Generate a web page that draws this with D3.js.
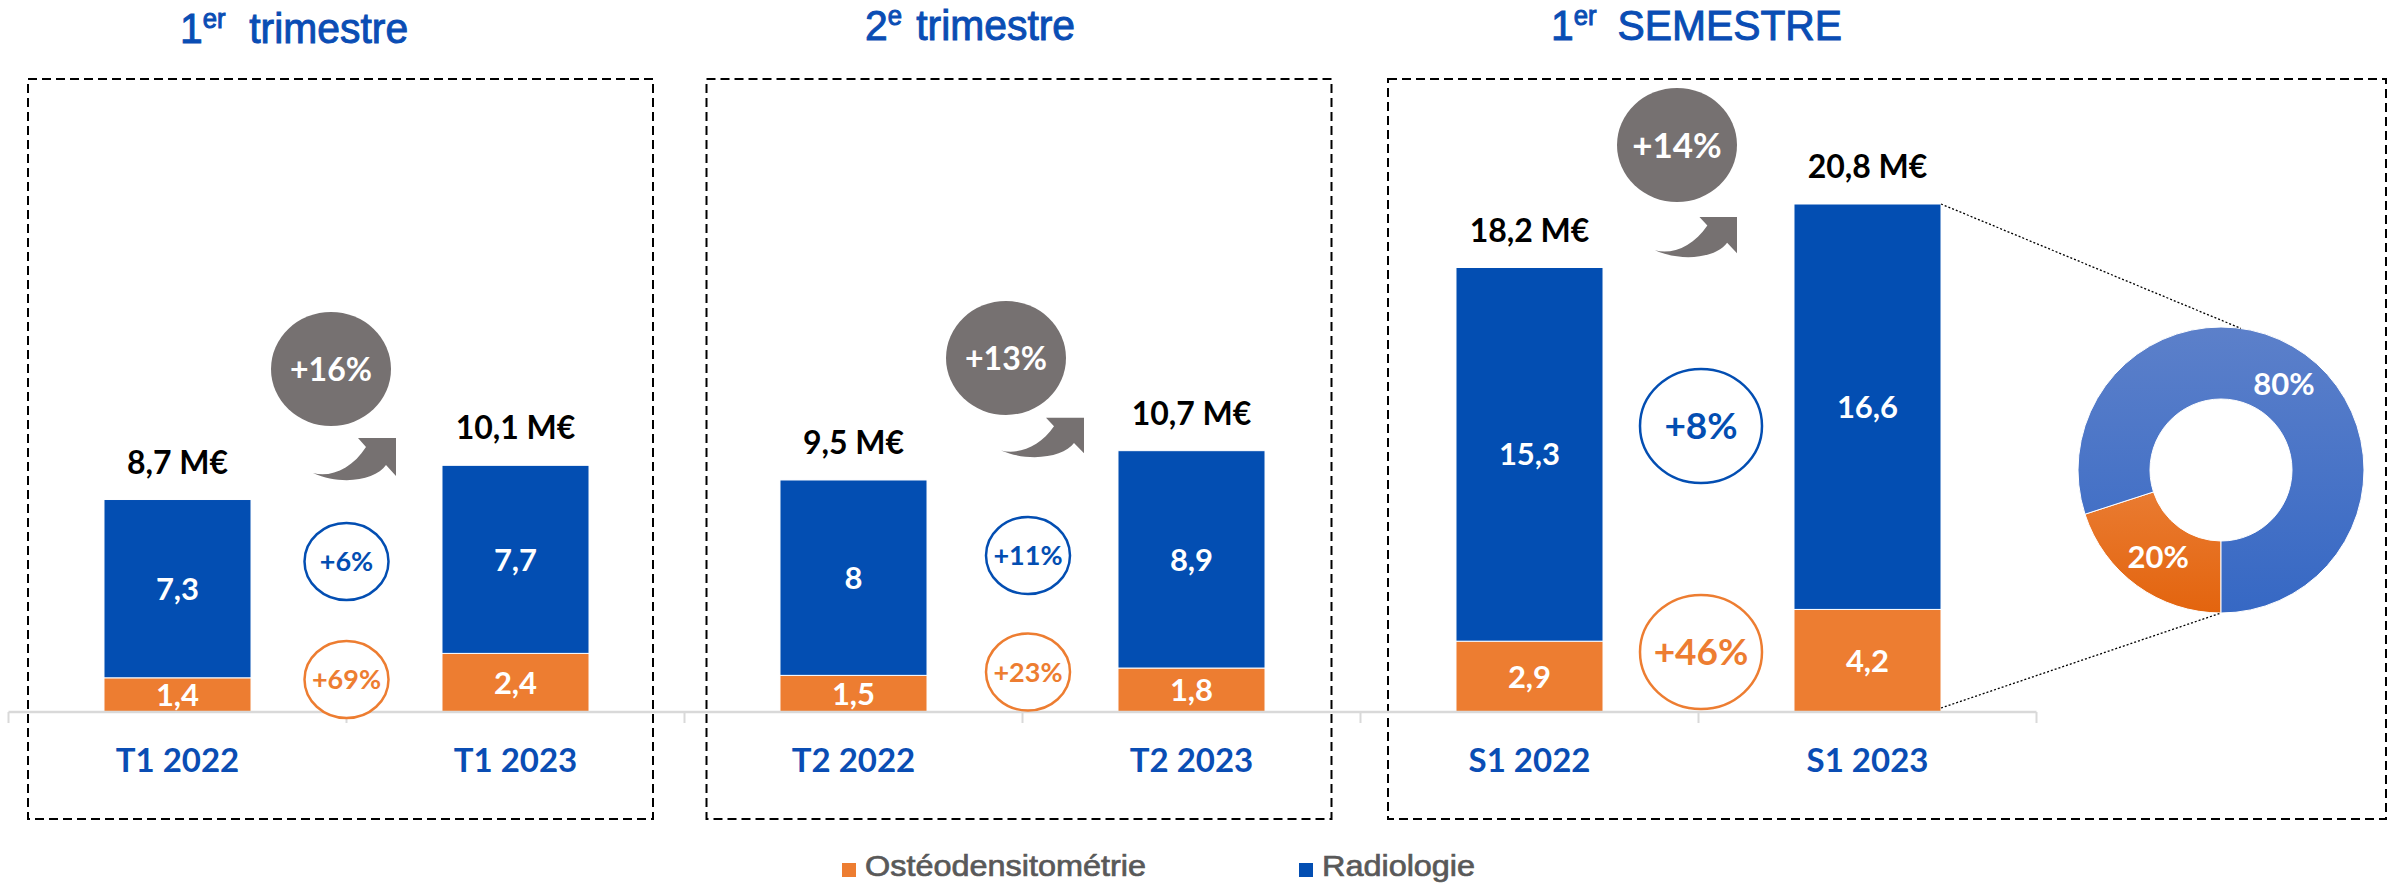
<!DOCTYPE html>
<html>
<head>
<meta charset="utf-8">
<script src="https://cdn.jsdelivr.net/npm/d3@7"></script>
<style>
  body { margin: 0; background: #fff; }
  svg { display: block; }
</style>
</head>
<body>
<div id="chart"></div>
<script>
// Data
var categories = ["T1 2022", "T1 2023", "T2 2022", "T2 2023", "S1 2022", "S1 2023"];
var osteo = [1.4, 2.4, 1.5, 1.8, 2.9, 4.2];
var radio = [7.3, 7.7, 8, 8.9, 15.3, 16.6];

var titleNum = ["1", "2", "1"];
var titleSup = ["er", "e", "er"];
var titleWord = ["trimestre", "trimestre", "SEMESTRE"];

var totalGrowth = ["+16%", "+13%", "+14%"];
var radioGrowth = ["+6%", "+11%", "+8%"];
var osteoGrowth = ["+69%", "+23%", "+46%"];

var seriesNames = ["Ostéodensitométrie", "Radiologie"];
var shares = [20, 80];

// Layout / styles
var svgWidth = 2403, svgHeight = 885;
var blue = "#034EB2", orange = "#ED7D31", grey = "#767171", titleBlue = "#0A4DB4";
var labelFont = "Lato, 'Open Sans', sans-serif";
var arialFont = "'Liberation Sans', Arial, sans-serif";

// per panel placement of the free annotations
var panels = [
  {box: [28, 653],      titleX: 180,  titleY: 43,   gap: 25, badgeDx: -15.5, badgeY: 369, badgeFont: 32,
   arrowDx: -34.5, arrowY: 436, arrowW: 84, arrowH: 44, smallDx: 0,   smallY: [561.5, 679.5], smallR: [42, 38.5], smallFont: 27},
  {box: [706.5, 1331.5], titleX: 865, titleY: 39.5, gap: 15, badgeDx: -16.5, badgeY: 358, badgeFont: 32,
   arrowDx: -22.5, arrowY: 416, arrowW: 84, arrowH: 41, smallDx: 5.5, smallY: [555.5, 672], smallR: [42, 38.5], smallFont: 27},
  {box: [1388, 2386],   titleX: 1551, titleY: 39.5, gap: 22, badgeDx: -21.5, badgeY: 145, badgeFont: 35,
   arrowDx: -44.5, arrowY: 215, arrowW: 83, arrowH: 42, smallDx: 2.5, smallY: [426, 652], smallR: [61, 57], smallFont: 37}
];
var boxTop = 79, boxBottom = 819;
var donut = {cx: 2221, cy: 470, inner: 71, outer: 143};

var svg = d3.select("#chart").append("svg").attr("width", svgWidth).attr("height", svgHeight);

var x = d3.scaleBand().domain(categories).range([8.5, 2036.5]).paddingInner(0.565).paddingOuter(0.2825);
var y = d3.scaleLinear().domain([0, 20.8]).range([712, 204]);
var bw = x.bandwidth();
var mid = function(p) { return x.range()[0] + (2 * p + 1) * x.step(); };
var fmt = function(v) { return String(v).replace(".", ","); };

var rows = categories.map(function(c, i) {
  return {cat: c, osteo: osteo[i], radio: radio[i], total: +(osteo[i] + radio[i]).toFixed(1)};
});

// dashed frames
svg.selectAll("rect.frame")
  .data(panels)
  .enter()
  .append("rect")
  .attr("class", "frame")
  .attr("x", d => d.box[0])
  .attr("y", boxTop)
  .attr("width", d => d.box[1] - d.box[0])
  .attr("height", boxBottom - boxTop)
  .attr("fill", "none")
  .attr("stroke", "#000")
  .attr("stroke-width", 2)
  .attr("stroke-dasharray", "9,5");

// titles (regular face thickened a little with a thin stroke)
var titles = svg.selectAll("text.title")
  .data(panels)
  .enter()
  .append("text")
  .attr("class", "title")
  .attr("transform", d => `translate(${d.titleX}, ${d.titleY}) scale(0.95, 1)`)
  .attr("fill", titleBlue)
  .attr("stroke", titleBlue)
  .attr("stroke-width", 1)
  .style("font-family", arialFont)
  .style("font-size", "43px");
titles.append("tspan").text((d, i) => titleNum[i]);
titles.append("tspan").attr("dy", -15).style("font-size", "27px").text((d, i) => titleSup[i]);
titles.append("tspan").attr("dy", 15).attr("dx", d => d.gap).text((d, i) => titleWord[i]);

// stacked bars
var bars = svg.append("g");
bars.selectAll("rect.osteo")
  .data(rows)
  .enter()
  .append("rect")
  .attr("x", d => x(d.cat))
  .attr("y", d => y(d.osteo))
  .attr("width", bw)
  .attr("height", d => y(0) - y(d.osteo))
  .attr("fill", orange)
  .attr("stroke", "#fff")
  .attr("stroke-width", 1);
bars.selectAll("rect.radio")
  .data(rows)
  .enter()
  .append("rect")
  .attr("x", d => x(d.cat))
  .attr("y", d => y(d.total))
  .attr("width", bw)
  .attr("height", d => y(d.osteo) - y(d.total))
  .attr("fill", blue)
  .attr("stroke", "#fff")
  .attr("stroke-width", 1);

// values inside segments
bars.selectAll("text.vo")
  .data(rows)
  .enter()
  .append("text")
  .attr("x", d => x(d.cat) + bw / 2)
  .attr("y", d => (y(0) + y(d.osteo)) / 2)
  .attr("dy", "0.36em")
  .attr("text-anchor", "middle")
  .attr("fill", "#fff")
  .style("font-family", labelFont)
  .style("font-weight", "bold")
  .style("font-size", "31px")
  .text(d => fmt(d.osteo));
bars.selectAll("text.vr")
  .data(rows)
  .enter()
  .append("text")
  .attr("x", d => x(d.cat) + bw / 2)
  .attr("y", d => (y(d.osteo) + y(d.total)) / 2)
  .attr("dy", "0.36em")
  .attr("text-anchor", "middle")
  .attr("fill", "#fff")
  .style("font-family", labelFont)
  .style("font-weight", "bold")
  .style("font-size", "31px")
  .text(d => fmt(d.radio));

// totals above bars
bars.selectAll("text.tot")
  .data(rows)
  .enter()
  .append("text")
  .attr("x", d => x(d.cat) + bw / 2)
  .attr("y", d => y(d.total) - 26)
  .attr("text-anchor", "middle")
  .attr("fill", "#000")
  .style("font-family", labelFont)
  .style("font-weight", "bold")
  .style("font-size", "32px")
  .text(d => fmt(d.total) + " M€");

// x axis: labels from axisBottom, boundary ticks drawn by hand
var xAxis = svg.append("g")
  .attr("transform", `translate(0, ${y(0)})`)
  .call(d3.axisBottom(x).tickSize(0).tickPadding(37));
xAxis.select(".domain").remove();
xAxis.selectAll("text")
  .attr("fill", titleBlue)
  .style("font-family", labelFont)
  .style("font-weight", "bold")
  .style("font-size", "33px");

var bounds = d3.range(categories.length + 1).map(i => x.range()[0] + i * x.step());
svg.append("line")
  .attr("x1", x.range()[0]).attr("x2", x.range()[1])
  .attr("y1", y(0)).attr("y2", y(0))
  .attr("stroke", "#D9D9D9")
  .attr("stroke-width", 2.3);
svg.selectAll("line.tick")
  .data(bounds)
  .enter()
  .append("line")
  .attr("x1", d => d).attr("x2", d => d)
  .attr("y1", y(0)).attr("y2", y(0) + 11)
  .attr("stroke", "#D9D9D9")
  .attr("stroke-width", 2);

// total growth badges + curved arrows
var arrowPath = "M1,37 C18,42 40,33 54,11 L46,2 L84,2 L84,40 L74,29 C64,44 30,50 1,37 Z";
panels.forEach(function(p, i) {
  var cx = mid(i) + p.badgeDx;
  svg.append("ellipse")
    .attr("cx", cx).attr("cy", p.badgeY)
    .attr("rx", 60).attr("ry", 57)
    .attr("fill", grey);
  svg.append("text")
    .attr("x", cx).attr("y", p.badgeY)
    .attr("dy", "0.36em")
    .attr("text-anchor", "middle")
    .attr("fill", "#fff")
    .style("font-family", labelFont)
    .style("font-weight", "bold")
    .style("font-size", p.badgeFont + "px")
    .text(totalGrowth[i]);
  svg.append("path")
    .attr("d", arrowPath)
    .attr("transform", `translate(${mid(i) + p.arrowDx}, ${p.arrowY}) scale(${p.arrowW / 84}, ${p.arrowH / 44})`)
    .attr("fill", grey);

  // segment growth rings
  var rings = [{txt: radioGrowth[i], col: blue, cy: p.smallY[0]}, {txt: osteoGrowth[i], col: orange, cy: p.smallY[1]}];
  rings.forEach(function(r) {
    svg.append("ellipse")
      .attr("cx", mid(i) + p.smallDx).attr("cy", r.cy)
      .attr("rx", p.smallR[0]).attr("ry", p.smallR[1])
      .attr("fill", "#fff")
      .attr("stroke", r.col)
      .attr("stroke-width", 2.5);
    svg.append("text")
      .attr("x", mid(i) + p.smallDx).attr("y", r.cy)
      .attr("dy", "0.36em")
      .attr("text-anchor", "middle")
      .attr("fill", r.col)
      .style("font-family", labelFont)
      .style("font-weight", "bold")
      .style("font-size", p.smallFont + "px")
      .text(r.txt);
  });
});

// donut for S1 2023 (gradients in the donut group's own coordinates)
var defs = svg.append("defs");
var grads = [["gOrange", "#F29A60", "#E3640E"], ["gBlue", "#5C80CA", "#3668C4"]];
grads.forEach(function(g) {
  var lg = defs.append("linearGradient")
    .attr("id", g[0])
    .attr("gradientUnits", "userSpaceOnUse")
    .attr("x1", 0).attr("x2", 0)
    .attr("y1", -donut.outer).attr("y2", donut.outer);
  lg.append("stop").attr("offset", "0%").attr("stop-color", g[1]);
  lg.append("stop").attr("offset", "100%").attr("stop-color", g[2]);
});

var pie = d3.pie().sort(null).startAngle(Math.PI).endAngle(3 * Math.PI);
var arc = d3.arc().innerRadius(donut.inner).outerRadius(donut.outer);
var dg = svg.append("g").attr("transform", `translate(${donut.cx}, ${donut.cy})`);
var slices = pie(shares);
dg.selectAll("path")
  .data(slices)
  .enter()
  .append("path")
  .attr("d", arc)
  .attr("fill", (d, i) => i === 0 ? "url(#gOrange)" : "url(#gBlue)")
  .attr("stroke", "#fff")
  .attr("stroke-width", 1);
dg.selectAll("text")
  .data(slices)
  .enter()
  .append("text")
  .attr("transform", d => `translate(${arc.centroid(d)})`)
  .attr("dy", "0.36em")
  .attr("text-anchor", "middle")
  .attr("fill", "#fff")
  .style("font-family", labelFont)
  .style("font-weight", "bold")
  .style("font-size", "31px")
  .text(d => d.data + "%");

// dotted connectors from the S1 2023 bar to the donut
var last = rows[rows.length - 1];
var a = 8 * Math.PI / 180;
var conn = [
  [x(last.cat) + bw, y(last.total), donut.cx + donut.outer * Math.sin(a), donut.cy - donut.outer * Math.cos(a)],
  [x(last.cat) + bw, y(0) - 4, donut.cx, donut.cy + donut.outer]
];
svg.selectAll("line.conn")
  .data(conn)
  .enter()
  .append("line")
  .attr("x1", d => d[0]).attr("y1", d => d[1])
  .attr("x2", d => d[2]).attr("y2", d => d[3])
  .attr("stroke", "#000")
  .attr("stroke-width", 1.3)
  .attr("stroke-dasharray", "2,2");

// legend
var legendX = [842, 1299];
var legend = svg.selectAll("g.legend")
  .data(seriesNames)
  .enter()
  .append("g")
  .attr("transform", (d, i) => `translate(${legendX[i]}, 863)`);
legend.append("rect")
  .attr("width", 14).attr("height", 14)
  .attr("fill", (d, i) => i === 0 ? orange : blue);
legend.append("text")
  .attr("transform", "translate(23, 13) scale(1.08, 1)")
  .attr("fill", "#595959")
  .attr("stroke", "#595959")
  .attr("stroke-width", 0.7)
  .style("font-family", arialFont)
  .style("font-size", "30px")
  .text(d => d);
</script>
</body>
</html>
